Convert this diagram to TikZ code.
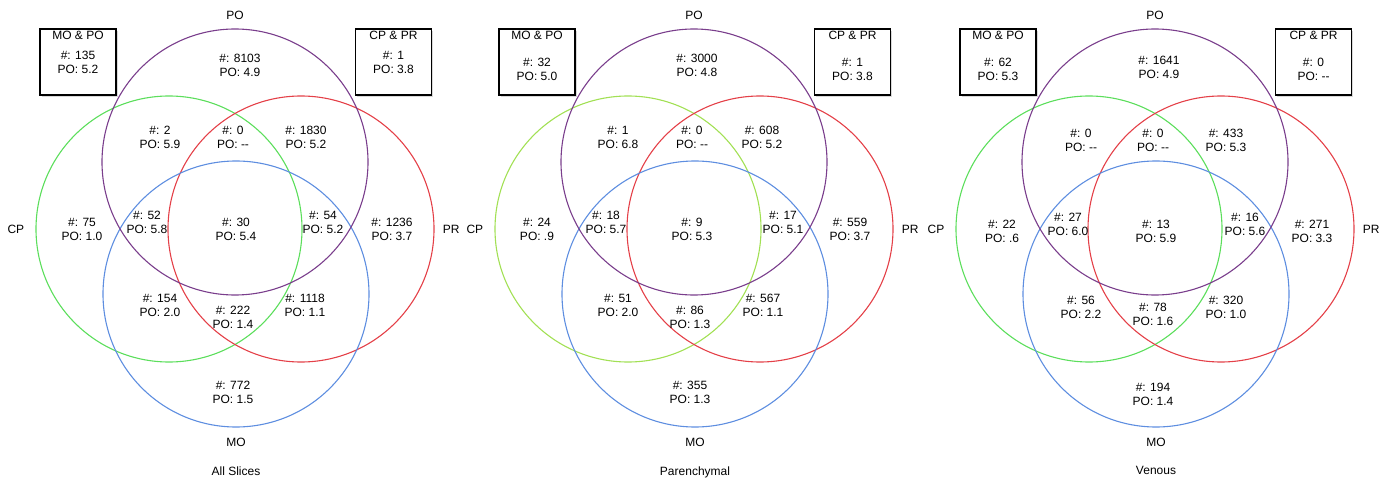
\documentclass[tikz,border=0pt]{standalone}
\usepackage{fontspec}
\setmainfont{Liberation Sans}
\usepackage{xcolor}
\usepackage{tikz}
\usetikzlibrary{positioning,shadows}

\definecolor{poline}{RGB}{122,62,140}
\definecolor{cpline}{RGB}{92,222,92}
\definecolor{cplime}{RGB}{162,224,84}
\definecolor{prline}{RGB}{228,64,72}
\definecolor{moline}{RGB}{94,142,224}

\newcommand\vfont{\fontsize{12}{14}\selectfont}
% one region of a diagram: name, position, count, PO value
\newcommand\region[4]{\node[cnt] (#1) at (#2) {\#: #3\\PO: #4};}
% one box: name, centre x, title, y of values, count, PO value
\newcommand\pairbox[6]{%
  \node[bx] (#1) at (#2,62) {};
  \node[lbl] (#1-t) at (#2,35) {#3};
  \node[cnt] (#1-v) at (#2,#4) {\#: #5\\PO: #6};}
% the four rings with their labels
\newcommand\rings[3]{%
  \node[ring, draw=#2] (#1-cp) at (169,229) {};
  \node[ring, draw=prline] (#1-pr) at (301,229) {};
  \node[ring, draw=moline] (#1-mo) at (236,294) {};
  \node[ring, draw=poline] (#1-po) at (235,162) {};
  \node[lbl, above=9pt of #1-po] (#1-pol) {PO};
  \node[lbl, below=10pt of #1-mo] (#1-mol) {MO};
  \node[lbl, left=11pt of #1-cp] (#1-cpl) {CP};
  \node[lbl, right=8pt of #1-pr] (#1-prl) {PR};
  \node[lbl, below=20pt of #1-mol] (#1-ttl) {#3};}

\begin{document}
\begin{tikzpicture}[x=1pt, y=-1pt,
    ring/.style={circle, draw, minimum size=266pt, inner sep=0pt, line width=1.1pt},
    bx/.style={draw, fill=white, line width=1.2pt, minimum width=76pt, minimum height=66pt,
      drop shadow={shadow xshift=1.5pt, shadow yshift=-2.5pt, opacity=.3}},
    lbl/.style={font=\vfont, inner sep=0pt},
    cnt/.style={lbl, align=center}
  ]
  \useasboundingbox (0,0) rectangle (1384,478);

  % All Slices
  \begin{scope}
    \rings{a}{cpline}{All Slices}
    \pairbox{a-mp}{78}{MO \& PO}{62.5}{135}{5.2}
    \pairbox{a-cr}{393.5}{CP \& PR}{62.5}{1}{3.8}
    \region{a-1}{240,65}{8103}{4.9}
    \region{a-2}{160,137}{2}{5.9}
    \region{a-3}{233,137}{0}{-{}-}
    \region{a-4}{306,137}{1830}{5.2}
    \region{a-5}{82,229}{75}{1.0}
    \region{a-6}{147,222}{52}{5.8}
    \region{a-7}{236,229}{30}{5.4}
    \region{a-8}{323,222}{54}{5.2}
    \region{a-9}{392,229}{1236}{3.7}
    \region{a-10}{160,305}{154}{2.0}
    \region{a-11}{233,317}{222}{1.4}
    \region{a-12}{305,305}{1118}{1.1}
    \region{a-13}{233,392}{772}{1.5}
  \end{scope}

  % Parenchymal
  \begin{scope}[xshift=459pt]
    \rings{b}{cplime}{Parenchymal}
    \pairbox{b-mp}{78}{MO \& PO}{69.5}{32}{5.0}
    \pairbox{b-cr}{393.5}{CP \& PR}{69.5}{1}{3.8}
    \region{b-1}{238,65}{3000}{4.8}
    \region{b-2}{159,137}{1}{6.8}
    \region{b-3}{233,137}{0}{-{}-}
    \region{b-4}{303,137}{608}{5.2}
    \region{b-5}{78,229}{24}{.9}
    \region{b-6}{147,222}{18}{5.7}
    \region{b-7}{233,229}{9}{5.3}
    \region{b-8}{324,222}{17}{5.1}
    \region{b-9}{391,229}{559}{3.7}
    \region{b-10}{159,305}{51}{2.0}
    \region{b-11}{231,317}{86}{1.3}
    \region{b-12}{304,305}{567}{1.1}
    \region{b-13}{231,392}{355}{1.3}
  \end{scope}

  % Venous
  \begin{scope}[xshift=920pt]
    \rings{c}{cpline}{Venous}
    \pairbox{c-mp}{78}{MO \& PO}{69.5}{62}{5.3}
    \pairbox{c-cr}{393.5}{CP \& PR}{69.5}{0}{-{}-}
    \region{c-1}{239,67}{1641}{4.9}
    \region{c-2}{161,140}{0}{-{}-}
    \region{c-3}{233,140}{0}{-{}-}
    \region{c-4}{306,140}{433}{5.3}
    \region{c-5}{82,231}{22}{.6}
    \region{c-6}{148,224}{27}{6.0}
    \region{c-7}{236,231}{13}{5.9}
    \region{c-8}{325,224}{16}{5.6}
    \region{c-9}{392,231}{271}{3.3}
    \region{c-10}{161,307}{56}{2.2}
    \region{c-11}{233,314}{78}{1.6}
    \region{c-12}{306,307}{320}{1.0}
    \region{c-13}{233,394}{194}{1.4}
  \end{scope}
\end{tikzpicture}
\end{document}
